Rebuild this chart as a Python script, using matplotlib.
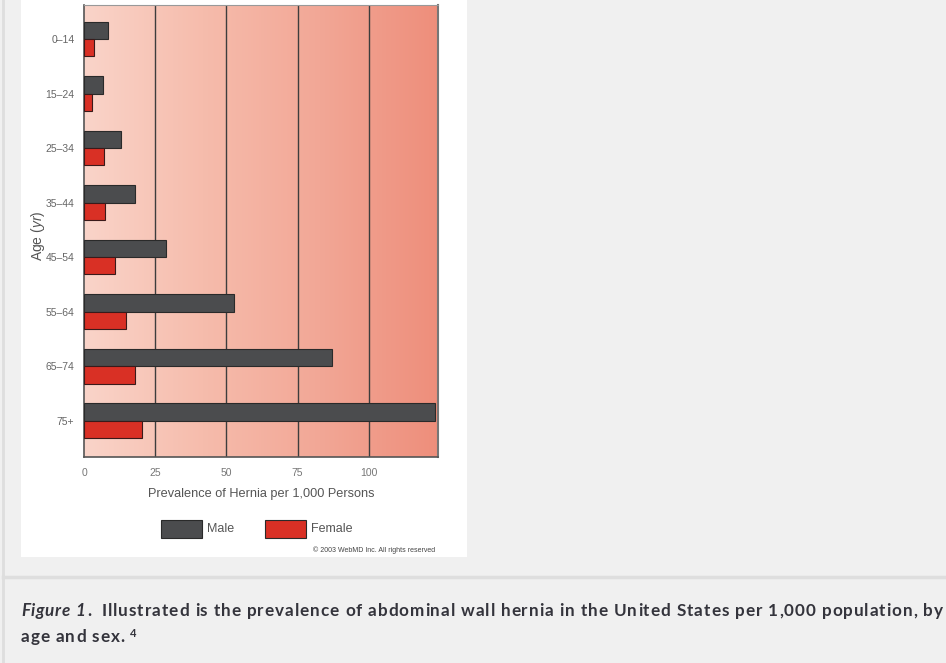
import numpy as np
import matplotlib
matplotlib.use("Agg")
import matplotlib.pyplot as plt
from matplotlib.colors import LinearSegmentedColormap
from matplotlib.patches import Rectangle
from matplotlib.lines import Line2D
from matplotlib.font_manager import FontProperties, findfont
from matplotlib.ft2font import FT2Font

ages = ['0–14', '15–24', '25–34', '35–44', '45–54', '55–64', '65–74', '75+']
male = [8.4, 6.6, 12.9, 17.9, 28.8, 52.6, 87.0, 123.3]
female = [3.6, 2.7, 6.9, 7.4, 11.0, 14.9, 17.8, 20.5]
xticks = [0, 25, 50, 75, 100]
series_names = ['Male', 'Female']

plt.rcParams['font.family'] = ['Liberation Sans', 'DejaVu Sans']
plt.rcParams['mathtext.fontset'] = 'custom'
plt.rcParams['mathtext.rm'] = 'Liberation Sans'
plt.rcParams['mathtext.it'] = 'Liberation Sans:italic'

W, H = 946, 663
DPI = 100
fig = plt.figure(figsize=(W / DPI, H / DPI), dpi=DPI, facecolor='#f0f0f0')

def fx(px):
    return px / W

def fy(py):
    return 1 - py / H

# page decorations
fig.add_artist(Rectangle((fx(21), fy(557)), fx(467) - fx(21), fy(0) - fy(557),
                         transform=fig.transFigure, facecolor='white', edgecolor='none', zorder=0))
fig.add_artist(Line2D([fx(3), fx(3)], [0, 1], transform=fig.transFigure, color='#dedede', lw=2))
fig.add_artist(Line2D([fx(3), 1], [fy(577), fy(577)], transform=fig.transFigure, color='#dedede', lw=2.5))

ax = fig.add_axes([fx(84), fy(456.7), fx(438) - fx(84), fy(5) - fy(456.7)])
xmax = 124.3
ax.set_xlim(0, xmax)
ax.set_ylim(7.66, -0.624)

cmap = LinearSegmentedColormap.from_list('bg', ['#fad4c9', '#f6bcac', '#f2a796', '#ee8e7b'])
grad = np.linspace(0, 1, 256).reshape(1, -1)
ax.imshow(grad, extent=[0, xmax, 7.66, -0.624], aspect='auto', cmap=cmap, zorder=0)

for v in xticks[1:]:
    ax.axvline(v, color='#3d3d3d', lw=1.0, zorder=1)

y = np.arange(len(ages))
h = 0.318
ax.barh(y - h / 2, male, height=h, color='#4b4c4e', edgecolor='#2a2a2a', lw=0.8, zorder=3)
ax.barh(y + h / 2, female, height=h, color='#d93025', edgecolor='#3a1a1a', lw=0.8, zorder=3)

ax.set_yticks(y)
ax.set_yticklabels(ages, fontsize=7.5, color='#666666')
ax.set_xticks(xticks)
ax.set_xticklabels([str(v) for v in xticks], fontsize=7.5, color='#777777')
ax.tick_params(axis='both', length=0)
ax.tick_params(axis='y', pad=7)
ax.tick_params(axis='x', pad=8)

for s in ['left', 'bottom']:
    ax.spines[s].set_color('#555555')
    ax.spines[s].set_linewidth(1.2)
ax.spines['top'].set_color('#999999')
ax.spines['right'].set_color('#777777')
ax.spines['right'].set_linewidth(1.5)

ax.set_xlabel('Prevalence of Hernia per 1,000 Persons', fontsize=9.2, color='#555555', labelpad=7)
fig.text(fx(38), fy(236), r'Age ($\mathit{yr}$)', rotation=90, fontsize=10, color='#555555',
         ha='center', va='center')

# legend
for name, color, x0, tx in [(series_names[0], '#4b4c4e', 160.7, 207), (series_names[1], '#d93025', 265, 310.7)]:
    fig.add_artist(Rectangle((fx(x0), fy(537.7)), fx(41), fy(520) - fy(537.7),
                             transform=fig.transFigure, facecolor=color, edgecolor='#2a2a2a', lw=0.8))
    fig.text(fx(tx), fy(529), name, fontsize=9, color='#555555', ha='left', va='center')

fig.text(fx(435), fy(550), '© 2003 WebMD Inc. All rights reserved', fontsize=5, color='#444444',
         ha='right', va='center')

# caption, letter-spaced like the reference
CAP_COLOR = '#34343c'
CAP_FAMILY = ['Lato', 'DejaVu Sans']
CAP_SIZE = 12.3
p_it = FontProperties(family=CAP_FAMILY, weight='bold', style='italic', size=CAP_SIZE)
p_bd = FontProperties(family=CAP_FAMILY, weight='bold', size=CAP_SIZE)
p_sup = FontProperties(family=CAP_FAMILY, weight='bold', size=8)

_fonts = {}

def advance(ch, prop):
    key = (prop.get_style(), prop.get_weight(), prop.get_size_in_points())
    if key not in _fonts:
        f = FT2Font(findfont(prop))
        f.set_size(prop.get_size_in_points(), DPI)
        _fonts[key] = f
    g = _fonts[key].load_char(ord(ch))
    return g.linearHoriAdvance / 65536.0

def natural_width(s, prop):
    return sum(advance(c, prop) for c in s)

def draw_tracked(x_px, base_px, s, prop, track):
    x = x_px
    for c in s:
        if c != ' ':
            fig.text(fx(x), fy(base_px), c, fontproperties=prop, color=CAP_COLOR,
                     va='baseline', ha='left')
        x += advance(c, prop) + track
    return x

caption_label = 'Figure 1'
caption_line1 = 'Illustrated is the prevalence of abdominal wall hernia in the United States per 1,000 population, by'
caption_line2 = 'age and sex.'

t_fig = (64 - natural_width(caption_label, p_it)) / (len(caption_label) - 1)
draw_tracked(21, 616, caption_label, p_it, t_fig)
fig.text(fx(87), fy(616), '.', fontproperties=p_bd, color=CAP_COLOR, va='baseline', ha='left')
# spread so that the whole first line ends just inside the right edge
t_body = (943 - 101.7 - natural_width(caption_line1, p_bd)) / (len(caption_line1) - 1)
draw_tracked(101.7, 616, caption_line1, p_bd, t_body)
draw_tracked(21, 642, caption_line2, p_bd, t_body)
fig.text(fx(130), fy(637), '4', fontproperties=p_sup, color=CAP_COLOR, va='baseline', ha='left')

fig.savefig('out.png', dpi=DPI, facecolor=fig.get_facecolor())
